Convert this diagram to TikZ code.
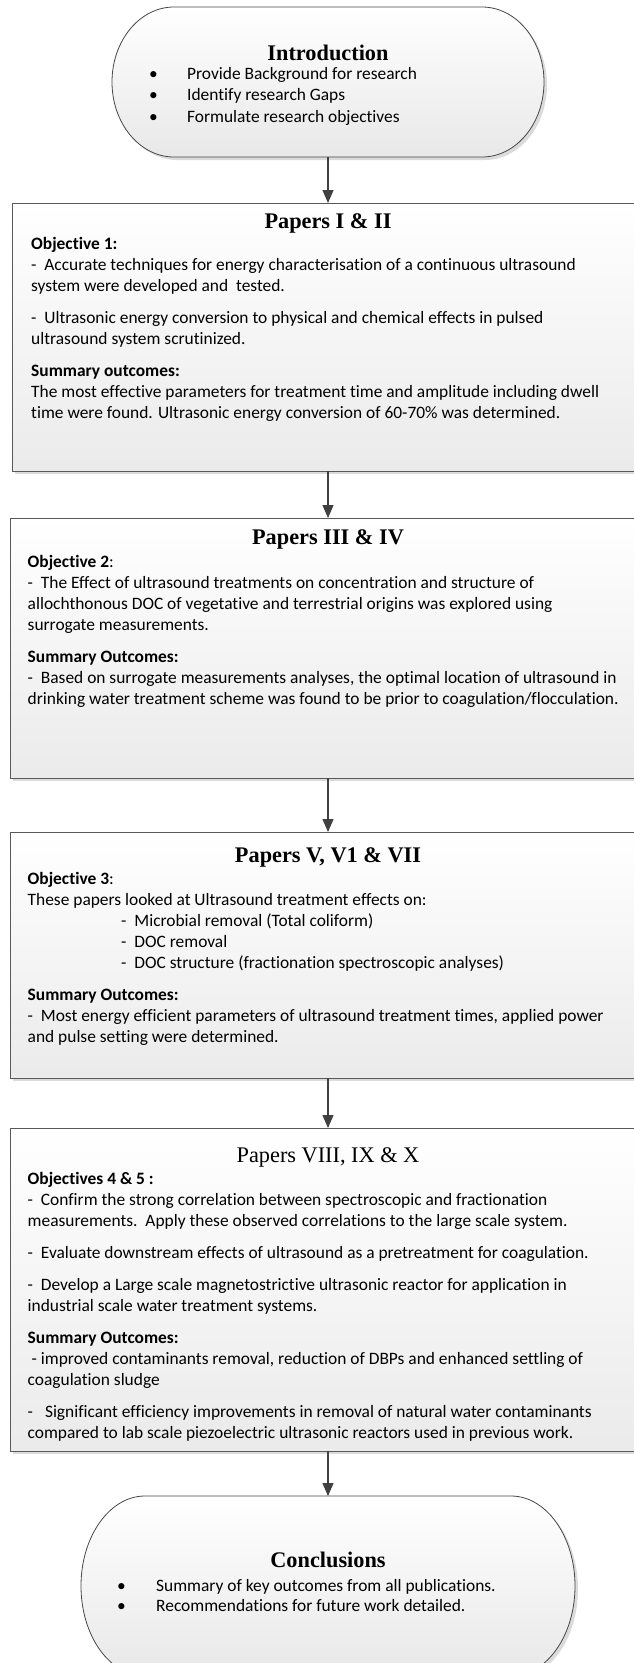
\documentclass[tikz,border=0pt]{standalone}
\usepackage{fontspec}
\setmainfont{Carlito}[Ligatures={NoCommon,NoContextual,NoRequired}]
\newfontfamily\serif{Liberation Serif}
\usetikzlibrary{arrows.meta,shadows}
\newcommand\dash{-\hspace{7.9pt}}
\newcommand\bodyfont{\fontsize{17.4}{21}\selectfont}
\newcommand\stadium[6]{(#1+#5,#3) -- (#2-#5,#3) arc[start angle=90,end angle=-90,x radius=#5pt,y radius=#6pt] -- (#1+#5,#4) arc[start angle=270,end angle=90,x radius=#5pt,y radius=#6pt] -- cycle}
\begin{document}
\begin{tikzpicture}[x=1pt,y=1pt,
  shade/.style={drop shadow={shadow xshift=3pt,shadow yshift=-3pt,fill=black!14,opacity=1}},
  panel/.style={draw=black!65, line width=1pt, top color=white, bottom color=black!8, shade},
  pill/.style={draw=black!72, line width=0.8pt, top color=white, bottom color=black!9, shade},
  frame/.style={anchor=north west, inner sep=0pt, outer sep=0pt, minimum width=636pt},
  title/.style={anchor=base, inner sep=0pt, font=\serif\bfseries\fontsize{22.3}{26}\selectfont},
  body/.style={anchor=base west, inner sep=0pt},
  link/.style={draw=black!75, line width=1.3pt, -{Triangle[width=11pt,length=13pt]}}]
\useasboundingbox (0,0) rectangle (634,-1663);
\clip (0,0) rectangle (634,-1663);

% Introduction
\path[pill] \stadium{112}{544}{-7}{-157}{62}{75};
\node[inner sep=0pt, outer sep=0pt, minimum width=432pt, minimum height=150pt] (intro) at (328,-82) {};
\node[title] (introT) at (328,-60) {Introduction};
\node[body] (introL) at (149,-79) {\parbox[t]{380pt}{\fontsize{17.4}{21.7}\selectfont
  \makebox[38pt][l]{\textbullet}Provide Background for research\\
  \makebox[38pt][l]{\textbullet}Identify research Gaps\\
  \makebox[38pt][l]{\textbullet}Formulate research objectives}};

% Papers I & II
\node[panel, frame, minimum height=268pt] (p1) at (12,-203) {};
\node[title] (t1) at (328,-228) {Papers I \& II};
\node[body] (b1) at (31,-249) {\parbox[t]{610pt}{\bodyfont\raggedright
  \textbf{Objective 1:}\\
  \dash Accurate techniques for energy characterisation of a continuous ultrasound\\
  system were developed and\ \ tested.\\[11pt]
  \dash Ultrasonic energy conversion to physical and chemical effects in pulsed\\
  ultrasound system scrutinized.\\[11pt]
  \textbf{Summary outcomes:}\\
  The most effective parameters for treatment time and amplitude including dwell\\
  time were found. Ultrasonic energy conversion of 60-70\% was determined.}};

% Papers III & IV
\node[panel, frame, minimum height=260pt] (p2) at (10,-518) {};
\node[title] (t2) at (328,-544) {Papers III \& IV};
\node[body] (b2) at (27.5,-567) {\parbox[t]{610pt}{\bodyfont\raggedright
  \textbf{Objective 2}:\\
  \dash The Effect of ultrasound treatments on concentration and structure of\\
  allochthonous DOC of vegetative and terrestrial origins was explored using\\
  surrogate measurements.\\[11pt]
  \textbf{Summary Outcomes:}\\
  \dash Based on surrogate measurements analyses, the optimal location of ultrasound in\\
  drinking water treatment scheme was found to be prior to coagulation/flocculation.}};

% Papers V, V1 & VII
\node[panel, frame, minimum height=246pt] (p3) at (10,-832) {};
\node[title] (t3) at (328,-862) {Papers V, V1 \& VII};
\node[body] (b3) at (27.5,-884) {\parbox[t]{610pt}{\bodyfont\raggedright
  \textbf{Objective 3}:\\
  These papers looked at Ultrasound treatment effects on:\\
  \hspace*{93.5pt}\dash Microbial removal (Total coliform)\\
  \hspace*{93.5pt}\dash DOC removal\\
  \hspace*{93.5pt}\dash DOC structure (fractionation spectroscopic analyses)\\[11pt]
  \textbf{Summary Outcomes:}\\
  \dash Most energy efficient parameters of ultrasound treatment times, applied power\\
  and pulse setting were determined.}};

% Papers VIII, IX & X
\node[panel, frame, minimum height=323pt] (p4) at (10,-1128) {};
\node[title, font=\serif\fontsize{22.3}{26}\selectfont] (t4) at (328,-1162) {Papers VIII, IX \& X};
\node[body] (b4) at (27.5,-1184) {\parbox[t]{610pt}{\bodyfont\raggedright
  \textbf{Objectives 4 \& 5 :}\\
  \dash Confirm the strong correlation between spectroscopic and fractionation\\
  measurements.\ \ Apply these observed correlations to the large scale system.\\[11pt]
  \dash Evaluate downstream effects of ultrasound as a pretreatment for coagulation.\\[11pt]
  \dash Develop a Large scale magnetostrictive ultrasonic reactor for application in\\
  industrial scale water treatment systems.\\[11pt]
  \textbf{Summary Outcomes:}\\
  \hspace*{4pt}- improved contaminants removal, reduction of DBPs and enhanced settling of\\
  coagulation sludge\\[11pt]
  -\hspace{12pt}Significant efficiency improvements in removal of natural water contaminants\\
  compared to lab scale piezoelectric ultrasonic reactors used in previous work.}};

% Conclusions
\path[pill] \stadium{81}{575}{-1496}{-1676}{64}{90};
\node[inner sep=0pt, outer sep=0pt, minimum width=494pt, minimum height=180pt] (concl) at (328,-1586) {};
\node[title] (conclT) at (328,-1567) {Conclusions};
\node[body] (conclL) at (117,-1591) {\parbox[t]{420pt}{\fontsize{17.4}{20}\selectfont
  \makebox[39pt][l]{\textbullet}Summary of key outcomes from all publications.\\
  \makebox[39pt][l]{\textbullet}Recommendations for future work detailed.}};

% connectors
\draw[link] (intro.south) -- (intro.south |- p1.north);
\draw[link] (p1.south -| intro.south) -- (intro.south |- p2.north);
\draw[link] (p2.south -| intro.south) -- (intro.south |- p3.north);
\draw[link] (p3.south -| intro.south) -- (intro.south |- p4.north);
\draw[link] (p4.south -| intro.south) -- (concl.north);
\end{tikzpicture}
\end{document}
